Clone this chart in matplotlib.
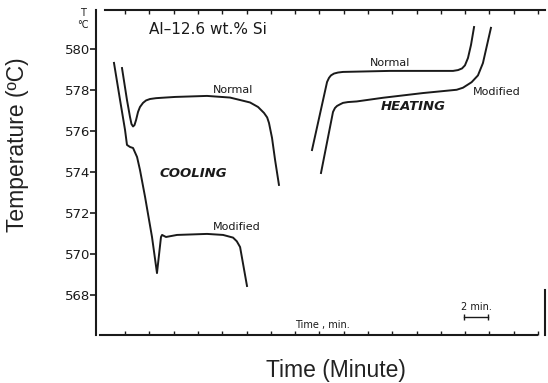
import matplotlib
matplotlib.use("Agg")
import matplotlib.pyplot as plt

# cooling curves (time in min, temperature in C)
cool_normal_t = [1.75, 2.16, 2.41, 2.53, 2.66, 2.78, 2.91, 3.07, 3.23, 3.48, 3.73, 4.06,
                 4.55, 5.05, 6.12, 8.75, 10.64, 11.47, 12.29, 12.95, 13.44, 13.70, 13.85,
                 14.10, 14.35, 14.67]
cool_normal_T = [579.07, 577.51, 576.68, 576.34, 576.22, 576.29, 576.54, 576.93, 577.17,
                 577.37, 577.49, 577.56, 577.60, 577.62, 577.66, 577.71, 577.63, 577.51,
                 577.39, 577.17, 576.88, 576.66, 576.39, 575.66, 574.59, 573.37]

cool_mod_t = [1.09, 1.59, 2.00, 2.16, 2.41, 2.66, 2.99, 3.23, 3.65, 4.22, 4.63, 4.96,
              5.05, 5.37, 6.28, 8.75, 10.07, 10.89, 11.20, 11.47, 12.04]
cool_mod_T = [579.32, 577.51, 576.05, 575.32, 575.22, 575.17, 574.73, 574.10, 572.78,
              570.83, 569.07, 570.83, 570.93, 570.83, 570.93, 570.98, 570.93, 570.80,
              570.62, 570.34, 568.44]

# heating curves
heat_normal_t = [17.39, 18.63, 18.79, 18.95, 19.20, 19.53, 19.94, 23.81, 29.00, 29.41,
                 29.74, 29.98, 30.23, 30.48, 30.73]
heat_normal_T = [575.07, 578.39, 578.59, 578.71, 578.80, 578.85, 578.88, 578.93, 578.93,
                 578.97, 579.05, 579.20, 579.56, 580.20, 581.07]

heat_mod_t = [18.13, 19.12, 19.28, 19.45, 19.70, 19.94, 20.35, 21.07, 23.24, 26.53, 29.30,
              29.82, 30.53, 31.05, 31.46, 32.12]
heat_mod_T = [573.95, 576.93, 577.12, 577.22, 577.30, 577.37, 577.41, 577.44, 577.62,
              577.85, 578.01, 578.11, 578.38, 578.71, 579.31, 581.03]

y_ticks = [568, 570, 572, 574, 576, 578, 580]
x_ticks = list(range(2, 37, 2))

ink = "#1a1a1a"

fig = plt.figure(figsize=(5.48, 3.83), dpi=100)
ax = fig.add_axes([96 / 548, 48 / 383, 449 / 548, 325 / 383])

for t, T in [(cool_normal_t, cool_normal_T), (cool_mod_t, cool_mod_T),
             (heat_normal_t, heat_normal_T), (heat_mod_t, heat_mod_T)]:
    ax.plot(t, T, color=ink, lw=1.4, solid_joinstyle="round")

ax.set_xlim(-0.39, 36.57)
ax.set_ylim(566.05, 581.9)

ax.set_yticks(y_ticks)
ax.set_yticklabels([str(v) for v in y_ticks], fontsize=9.5, color=ink)
ax.tick_params(axis="y", direction="out", length=4, width=1.2, pad=0, colors=ink)
ax.set_xticks(x_ticks)
ax.set_xticklabels([])
ax.tick_params(axis="x", direction="in", length=3, width=1.0, top=True, colors=ink)

for side in ["left", "bottom", "top", "right"]:
    ax.spines[side].set_color(ink)
    ax.spines[side].set_linewidth(1.5)
ax.spines["top"].set_bounds(0.36, 36.57)
ax.spines["bottom"].set_bounds(-0.06, 35.9)
ax.spines["right"].set_bounds(566.05, 568.24)

# annotations
ax.text(8.86, 580.93, "Al\u201312.6 wt.% Si", fontsize=11, ha="center", va="center", color=ink)
ax.text(10.89, 578.0, "Normal", fontsize=8, ha="center", va="center", color=ink)
ax.text(7.6, 573.95, "COOLING", fontsize=9.5, fontweight="bold", style="italic",
        ha="center", va="center", color=ink)
ax.text(11.22, 571.32, "Modified", fontsize=8, ha="center", va="center", color=ink)
ax.text(23.81, 579.32, "Normal", fontsize=8, ha="center", va="center", color=ink)
ax.text(25.7, 577.17, "HEATING", fontsize=9.5, fontweight="bold", style="italic",
        ha="center", va="center", color=ink)
ax.text(32.62, 577.9, "Modified", fontsize=8, ha="center", va="center", color=ink)
ax.text(18.21, 566.54, "Time , min.", fontsize=7, ha="center", va="center", color=ink)
ax.text(30.89, 567.41, "2 min.", fontsize=7, ha="center", va="center", color=ink)
ax.plot([29.9, 31.9], [566.93, 566.93], color=ink, lw=1.0, marker="|", ms=4)

ax.text(-1.46, 581.76, "T", fontsize=7, ha="center", va="center", color=ink, clip_on=False)
ax.text(-1.46, 581.17, "\u00b0C", fontsize=7, ha="center", va="center", color=ink, clip_on=False)

fig.text(336 / 548, 1 - 370 / 383, "Time (Minute)", fontsize=16.5,
         family="Liberation Sans", ha="center", va="center", color="#222222")
fig.text(18 / 548, 1 - 145 / 383, "Temperature (\u00baC)", fontsize=16.5, rotation=90,
         family="Liberation Sans", ha="center", va="center", color="#222222")

fig.savefig("out.png", dpi=100, facecolor="white")
